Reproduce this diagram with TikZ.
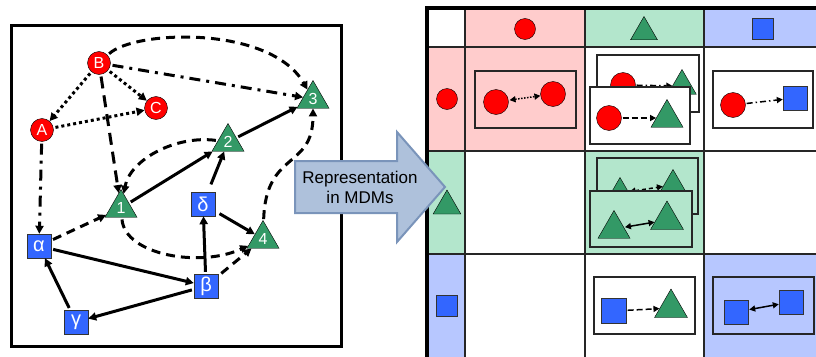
\documentclass[tikz,border=0pt]{standalone}
\usepackage{fontspec}
\setmainfont{Liberation Sans}
\usetikzlibrary{arrows.meta,shapes.geometric}
\definecolor{circcol}{RGB}{255,0,0}
\definecolor{tricol}{RGB}{51,153,102}
\definecolor{sqcol}{RGB}{51,102,255}
\definecolor{circbg}{RGB}{255,204,204}
\definecolor{tribg}{RGB}{179,230,204}
\definecolor{sqbg}{RGB}{183,199,255}
\definecolor{mdmfill}{RGB}{174,193,219}
\definecolor{mdmline}{RGB}{122,148,186}

\begin{document}
\begin{tikzpicture}[
  x=1pt, y=-1pt,
  >={Triangle[length=8pt,width=8pt]},
  rc/.style={circle, draw, fill=circcol, minimum size=#1, inner sep=0pt,
    text=white, font=\fontsize{16}{16}\selectfont},
  rc/.default=23pt,
  gt/.style={regular polygon, regular polygon sides=3, draw, fill=tricol,
    minimum size=#1, inner sep=0pt, text=white, font=\fontsize{16}{16}\selectfont},
  gt/.default=37pt,
  bs/.style={rectangle, draw=black!80, fill=sqcol, minimum size=#1, inner sep=0pt,
    text=white, font=\fontsize{20}{20}\selectfont},
  bs/.default=24pt,
  e/.style={->, line width=3pt, shorten <=2pt},
  ed/.style={e, dash pattern=on 9pt off 6pt},
  edd/.style={e, dash pattern=on 11pt off 6pt on 3pt off 6pt},
  edt/.style={e, dash pattern=on 3pt off 3pt},
  cellbox/.style={draw=black!85, line width=1.5pt},
  ce/.style={line width=1.5pt, shorten <=1pt, -{Triangle[length=6pt,width=6pt]}},
  ce2/.style={ce, {Triangle[length=6pt,width=6pt]}-{Triangle[length=6pt,width=6pt]}},
]
\useasboundingbox (0,0) rectangle (816,356);

% --- graph of elements ---
\draw[line width=3pt] (11,25) rectangle (341,346);

\node[rc] (B) at (99,63) {B};
\node[rc] (C) at (156,108) {C};
\node[rc] (A) at (42,130) {A};
\node[gt] (n3) at (313,99) {3};
\node[gt] (n2) at (228,142) {2};
\node[gt] (n1) at (121,208) {1};
\node[gt] (n4) at (263,239) {4};
\node[bs] (delta) at (203,204) {δ};
\node[bs] (alpha) at (39,246) {α};
\node[bs] (beta) at (206,286) {β};
\node[bs] (gamma) at (76,322) {γ};

\draw[edt] (B) -- (C);
\draw[edt] (B) -- (A);
\draw[edt] (A) -- (C);
\draw[edd] (B) -- (n3);
\draw[ed] (B) .. controls (135,30) and (270,25) .. (n3);
\draw[ed, dash pattern=on 12pt off 7pt] (B) -- (n1);
\draw[edd] (A) -- (alpha);
\draw[ed] (n2) .. controls (175,135) and (130,160) .. (n1);
\draw[e] (n1) -- (n2);
\draw[e] (n2) -- (n3);
\draw[ed] (alpha) -- (n1);
\draw[e] (alpha) -- (beta);
\draw[e] (gamma) -- (alpha);
\draw[e] (beta) -- (gamma);
\draw[e] (beta) -- (delta);
\draw[e, shorten <=8pt] (delta) -- (n2);
\draw[e, shorten <=5pt] (delta) -- (n4);
\draw[ed, shorten <=4pt] (beta) -- (n4);
\draw[ed] (n1) .. controls (125,255) and (200,268) .. (n4);
\draw[ed] (n4) .. controls (266,150) and (313,170) .. (n3);

% --- MDM grid ---
\fill[circbg] (465,8) rectangle (585,47);
\fill[tribg] (585,8) rectangle (704,47);
\fill[sqbg] (704,8) rectangle (820,47);
\fill[circbg] (427,47) rectangle (585,151);
\fill[tribg] (427,151) rectangle (465,254);
\fill[tribg] (585,151) rectangle (704,254);
\fill[sqbg] (427,254) rectangle (465,360);
\fill[sqbg] (704,254) rectangle (820,360);
\foreach \gx in {465,585,704}
  \draw[line width=1.5pt, black!85] (\gx,8) -- (\gx,360);
\foreach \gy in {47,151,254}
  \draw[line width=1.5pt, black!85] (427,\gy) -- (820,\gy);
\draw[line width=3.5pt] (427,360) -- (427,8) -- (820,8);

% headers
\node[rc=21pt] (hc) at (525,29) {};
\node[gt=31pt] (ht) at (644,32) {};
\node[bs=21pt] (hs) at (763,29) {};
\node[rc=21pt] (rcirc) at (447,99) {};
\node[gt=32pt] (rtri) at (447,206) {};
\node[bs=21pt] (rsq) at (447,306) {};

% circle -- circle
\draw[cellbox] (475,71) rectangle (576,128);
\node[rc=25pt] (c11a) at (496,102) {};
\node[rc=25pt] (c11b) at (553,94) {};
\draw[ce2, dash pattern=on 1.5pt off 1.5pt] (c11a) -- (c11b);

% circle -- triangle
\draw[cellbox, fill=white] (597,55) rectangle (699,112);
\node[rc=25pt] (c12a) at (623,85) {};
\node[gt=33pt] (c12b) at (682,86) {};
\draw[ce, dash pattern=on 6pt off 3pt on 1.5pt off 3pt] (c12a) -- (c12b);
\draw[cellbox, fill=white] (590,87) rectangle (690,144);
\node[rc=25pt] (c12c) at (609,118) {};
\node[gt=37pt] (c12d) at (667,118) {};
\draw[ce, dash pattern=on 6pt off 3pt] (c12c) -- (c12d);

% circle -- square
\draw[cellbox, fill=white] (713,71) rectangle (813,128);
\node[rc=25pt] (c13a) at (733,105) {};
\node[bs] (c13b) at (795,98) {};
\draw[ce, dash pattern=on 6pt off 3pt on 1.5pt off 3pt] (c13a) -- (c13b);

% triangle -- triangle
\draw[cellbox, fill=tribg] (597,158) rectangle (698,214);
\node[gt=31pt] (c22a) at (620,193) {};
\node[gt=31pt] (c22b) at (673,185) {};
\draw[ce2, dash pattern=on 4pt off 3pt] (c22a) -- (c22b);
\draw[cellbox, fill=tribg] (590,191) rectangle (692,247);
\node[gt=37pt] (c22c) at (614,229) {};
\node[gt=38pt] (c22d) at (667,220) {};
\draw[ce2] (c22c) -- (c22d);

% square -- triangle
\draw[cellbox, fill=white] (594,277) rectangle (695,334);
\node[bs=25pt] (c32a) at (614,311) {};
\node[gt=38pt] (c32b) at (671,308) {};
\draw[ce, dash pattern=on 6pt off 3pt] (c32a) -- (c32b);

% square -- square
\draw[cellbox] (713,277) rectangle (814,334);
\node[bs] (c33a) at (736,312) {};
\node[bs] (c33b) at (791,302) {};
\draw[ce2] (c33a) -- (c33b);

% --- block arrow ---
\draw[line width=2pt, draw=mdmline, fill=mdmfill, line join=miter]
  (295,161) -- (397,161) -- (397,132) -- (445,187) -- (397,242) -- (397,213)
  -- (295,213) -- cycle;
\node[align=center, font=\fontsize{17}{20}\selectfont] (rep) at (360,187)
  {Representation\\in MDMs};
\end{tikzpicture}
\end{document}
